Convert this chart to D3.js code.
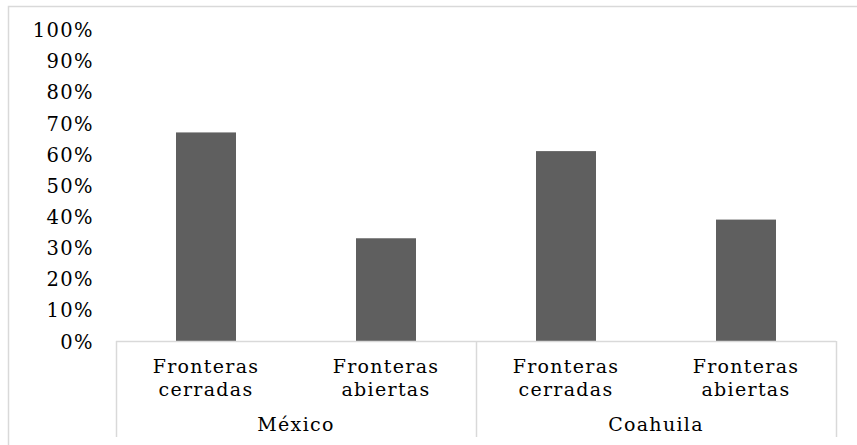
<!DOCTYPE html>
<html>
<head>
<meta charset="utf-8">
<script src="https://cdn.jsdelivr.net/npm/d3@7"></script>
<style>
  html, body { margin: 0; padding: 0; background: #fff; }
  svg { display: block; }
  text { font-family: "DejaVu Serif", serif; fill: #000; }
</style>
</head>
<body>
<svg id="chart" width="857" height="445"></svg>
<script>
// Share of responses by border scenario, grouped by region
const groups = ["México", "Coahuila"];
const scenarios = [["Fronteras", "cerradas"], ["Fronteras", "abiertas"]];
const mexicoValues = [67, 33];
const coahuilaValues = [61, 39];
const yTicks = [0, 10, 20, 30, 40, 50, 60, 70, 80, 90, 100];

const rows = [];
groups.forEach((g, gi) => {
  const vals = gi === 0 ? mexicoValues : coahuilaValues;
  scenarios.forEach((s, si) => rows.push({ key: g + "|" + si, group: g, label: s, value: vals[si] }));
});

const svg = d3.select("#chart");
const plot = { left: 116, right: 836, top: 29.7, bottom: 341 };
const axisColor = "#d9d9d9";
const fontSize = "19px";

// chart frame
svg.append("path")
  .attr("d", "M8.5,445 V6.5 H857")
  .attr("fill", "none")
  .attr("stroke", axisColor)
  .attr("stroke-width", 1.5);

const x = d3.scaleBand()
  .domain(rows.map(d => d.key))
  .range([plot.left, plot.right])
  .paddingInner(2 / 3)
  .paddingOuter(1 / 3);

const y = d3.scaleLinear().domain([0, 100]).range([plot.bottom, plot.top]);

// y axis labels (no axis line)
const yAxis = d3.axisLeft(y).tickValues(yTicks).tickSize(0).tickPadding(0)
  .tickFormat(d => d + "%");
const yg = svg.append("g").attr("transform", "translate(94,0)").call(yAxis);
yg.select(".domain").remove();
yg.selectAll("text").style("font-family", "DejaVu Serif").style("font-size", "19.5px")
  .attr("dy", "0.36em").attr("letter-spacing", "1.4");

// bars
svg.append("g").selectAll("rect").data(rows).join("rect")
  .attr("x", d => x(d.key))
  .attr("width", x.bandwidth())
  .attr("y", d => y(d.value))
  .attr("height", d => y(0) - y(d.value))
  .attr("fill", "#5f5f5f");

// category axis: baseline and group separators
const groupEdges = d3.scaleLinear().domain([0, groups.length]).range([plot.left, plot.right]);
svg.append("line")
  .attr("x1", plot.left).attr("x2", plot.right)
  .attr("y1", y(0) + 0.5).attr("y2", y(0) + 0.5)
  .attr("stroke", axisColor).attr("stroke-width", 1.5);
svg.append("g").selectAll("line").data(d3.range(groups.length + 1)).join("line")
  .attr("x1", i => Math.round(groupEdges(i)) + 0.5)
  .attr("x2", i => Math.round(groupEdges(i)) + 0.5)
  .attr("y1", y(0)).attr("y2", 437)
  .attr("stroke", axisColor).attr("stroke-width", 1.5);

// scenario labels (two lines each)
const lab = svg.append("g").selectAll("text").data(rows).join("text")
  .attr("x", d => x(d.key) + x.bandwidth() / 2)
  .attr("y", 373)
  .attr("text-anchor", "middle")
  .style("font-size", fontSize)
  .attr("letter-spacing", "1.3");
lab.selectAll("tspan").data(d => d.label.map(t => ({ t, cx: x(d.key) + x.bandwidth() / 2 }))).join("tspan")
  .attr("x", d => d.cx)
  .attr("dy", (d, i) => i === 0 ? 0 : 23)
  .text(d => d.t);

// group labels
svg.append("g").selectAll("text").data(groups).join("text")
  .attr("x", (g, i) => (groupEdges(i) + groupEdges(i + 1)) / 2)
  .attr("y", 431)
  .attr("text-anchor", "middle")
  .style("font-size", fontSize)
  .attr("letter-spacing", "1.3")
  .text(g => g);
</script>
</body>
</html>
